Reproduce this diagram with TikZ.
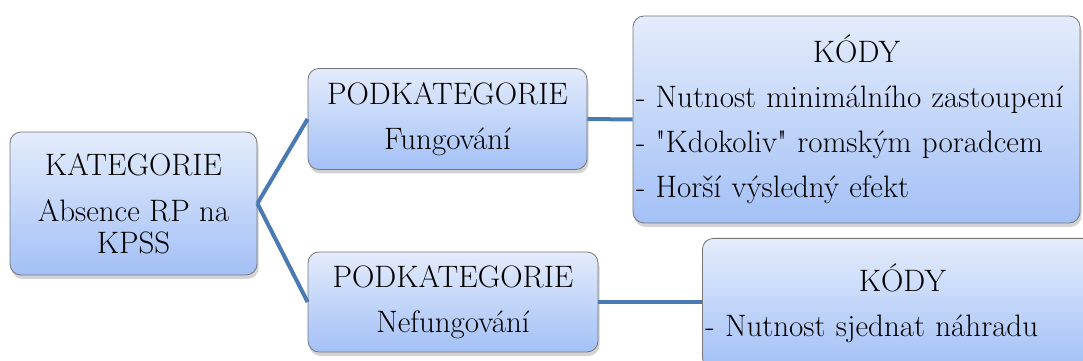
\documentclass[tikz,border=0pt]{standalone}
\usepackage{fontspec}
\usetikzlibrary{shadows}

\definecolor{linkblue}{RGB}{74,122,178}
\definecolor{boxtop}{RGB}{228,236,252}
\definecolor{boxbottom}{RGB}{163,192,246}
\definecolor{boxedge}{RGB}{118,118,118}

\tikzset{
	catbox/.style={draw=boxedge, line width=0.8pt, rounded corners=11pt,
		top color=boxtop, bottom color=boxbottom, inner sep=0pt,
		drop shadow={shadow xshift=1.5pt, shadow yshift=-4pt, opacity=0.35},
		font=\fontsize{31}{32}\selectfont},
	link/.style={draw=linkblue, line width=4pt}
}

\begin{document}
\begin{tikzpicture}[x=1pt, y=1pt]

	\clip (0, 0) rectangle (1083, 361);
	\useasboundingbox (0, 0) rectangle (1083, 361);

	% kategorie
	\node [catbox, minimum width=247pt, minimum height=143pt, align=center] (kat) at (133.5, 157.5)
		{KATEGORIE\\[14pt]Absence RP na\\KPSS};

	% podkategorie
	\node [catbox, minimum width=279pt, minimum height=101pt, align=center] (podA) at (447.5, 242)
		{PODKATEGORIE\\[13pt]Fungování};
	\node [catbox, minimum width=290pt, minimum height=100pt, align=center] (podB) at (453, 59)
		{PODKATEGORIE\\[13pt]Nefungování};

	% kody
	\node [catbox, minimum width=447pt, minimum height=207pt, text width=441pt, align=left] (kodA) at (856.5, 241.5)
		{\makebox[\linewidth]{KÓDY}\\[13pt]
		- Nutnost minimálního zastoupení\\[13pt]
		- \textquotedbl Kdokoliv\textquotedbl{} romským poradcem\\[13pt]
		- Horší výsledný efekt};
	\node [catbox, anchor=north west, minimum width=400pt, minimum height=130pt, text width=394pt, align=left] (kodB) at (702, 123)
		{\makebox[\linewidth]{KÓDY}\\[13pt]
		- Nutnost sjednat náhradu};

	% spojnice
	\draw [link] (kat.east) -- (podA.west);
	\draw [link] (kat.east) -- (podB.west);
	\draw [link] (podA.east) -- (kodA.west);
	\draw [link] (podB.east) -- (kodB.west |- podB.east);

\end{tikzpicture}
\end{document}
